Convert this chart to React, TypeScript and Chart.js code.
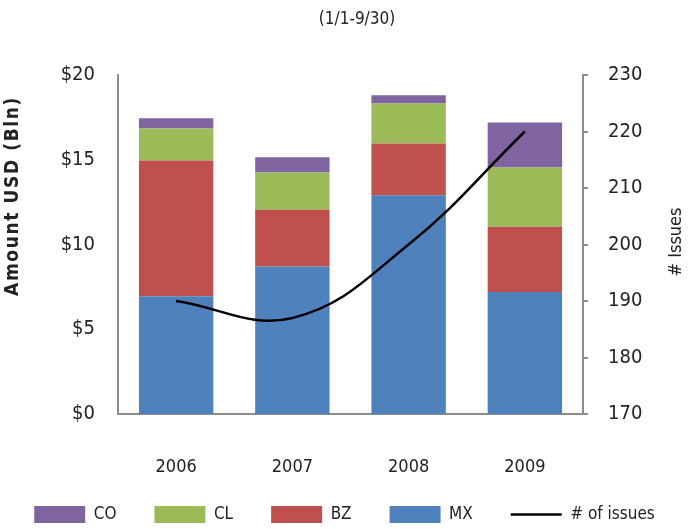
import React, { useEffect, useRef } from "react";
import { Chart, registerables } from "chart.js";

Chart.register(...registerables);

const years = ["2006", "2007", "2008", "2009"];
const mx = [6.95, 8.7, 12.9, 7.2];
const bz = [8.0, 3.35, 3.06, 3.85];
const cl = [1.9, 2.2, 2.36, 3.5];
const co = [0.6, 0.9, 0.49, 2.65];
const issues = [190, 187, 200, 220];
const legendOrder = ["CO", "CL", "BZ", "MX", "# of issues"];

const FONT = "'Liberation Sans Narrow', 'DejaVu Sans Condensed', 'Open Sans', sans-serif";

const textPlugin = {
  id: "textPlugin",
  afterLayout(chart: any) {
    if (chart.legend) {
      chart.legend.top -= 8;
      chart.legend.bottom -= 8;
    }
  },
  afterDraw(chart: any) {
    const ctx = chart.ctx;
    ctx.save();
    ctx.fillStyle = "#222";
    ctx.textAlign = "center";
    ctx.textBaseline = "middle";
    ctx.font = `17px ${FONT}`;
    ctx.fillText("(1/1-9/30)", 357, 20);
    ctx.save();
    ctx.translate(13, 196);
    ctx.rotate(-Math.PI / 2);
    ctx.font = `bold 19px ${FONT}`;
    (ctx as any).letterSpacing = "1.6px";
    ctx.fillText("Amount USD (Bln)", 0, 0);
    ctx.restore();
    ctx.save();
    ctx.translate(676, 242);
    ctx.rotate(-Math.PI / 2);
    ctx.font = `18px ${FONT}`;
    ctx.fillText("# Issues", 0, 0);
    ctx.restore();
    ctx.restore();
  },
};

export default function App() {
  const ref = useRef<HTMLCanvasElement>(null);
  useEffect(() => {
    document.body.style.margin = "0";
    const chart = new Chart(ref.current as HTMLCanvasElement, {
      type: "bar",
      data: {
        labels: years,
        datasets: [
          { type: "line", label: "# of issues", data: issues, yAxisID: "y1", borderColor: "#000", backgroundColor: "#000", borderWidth: 2.5, pointRadius: 0, tension: 0.4, pointStyle: "line", order: -1 } as any,
          { label: "MX", data: mx, backgroundColor: "#4F81BD", pointStyle: "rect", borderWidth: 0 },
          { label: "BZ", data: bz, backgroundColor: "#C0504D", pointStyle: "rect", borderWidth: 0 },
          { label: "CL", data: cl, backgroundColor: "#9BBB59", pointStyle: "rect", borderWidth: 0 },
          { label: "CO", data: co, backgroundColor: "#8064A2", pointStyle: "rect", borderWidth: 0 },
        ],
      },
      options: {
        responsive: false,
        animation: false,
        layout: { padding: { top: 75, left: -20, right: -20, bottom: -12 } },
        datasets: { bar: { categoryPercentage: 1, barPercentage: 0.64 } },
        plugins: {
          tooltip: { enabled: false },
          legend: {
            position: "bottom",
            labels: {
              usePointStyle: true,
              pointStyleWidth: 51,
              boxHeight: 17,
              padding: 38,
              color: "#222",
              font: { family: FONT, size: 17 },
              sort: (a: any, b: any) => legendOrder.indexOf(a.text) - legendOrder.indexOf(b.text),
            },
          },
        },
        scales: {
          x: {
            stacked: true,
            grid: { display: false },
            border: { color: "#8c8c8c", width: 2 },
            ticks: { color: "#222", font: { family: FONT, size: 18 }, padding: 35 },
            afterFit: (s: any) => { s.height = 62; },
          },
          y: {
            stacked: true,
            min: 0,
            max: 20,
            position: "left",
            grid: { display: false },
            border: { color: "#8c8c8c", width: 2 },
            ticks: { stepSize: 5, color: "#222", font: { family: FONT, size: 20 }, padding: 15, callback: (v: any) => "$" + v },
            afterFit: (s: any) => { s.width = 138; },
          },
          y1: {
            min: 170,
            max: 230,
            position: "right",
            grid: { drawOnChartArea: false, color: "#8c8c8c", tickLength: 5, lineWidth: 2 },
            border: { color: "#8c8c8c", width: 2 },
            ticks: { stepSize: 10, color: "#222", font: { family: FONT, size: 20 }, padding: 20 },
            afterFit: (s: any) => { s.width = 126; },
          },
        },
      },
      plugins: [textPlugin],
    });
    return () => chart.destroy();
  }, []);
  return (
    <div style={{ width: 689, height: 529 }}>
      <canvas ref={ref} width={689} height={529} />
    </div>
  );
}
